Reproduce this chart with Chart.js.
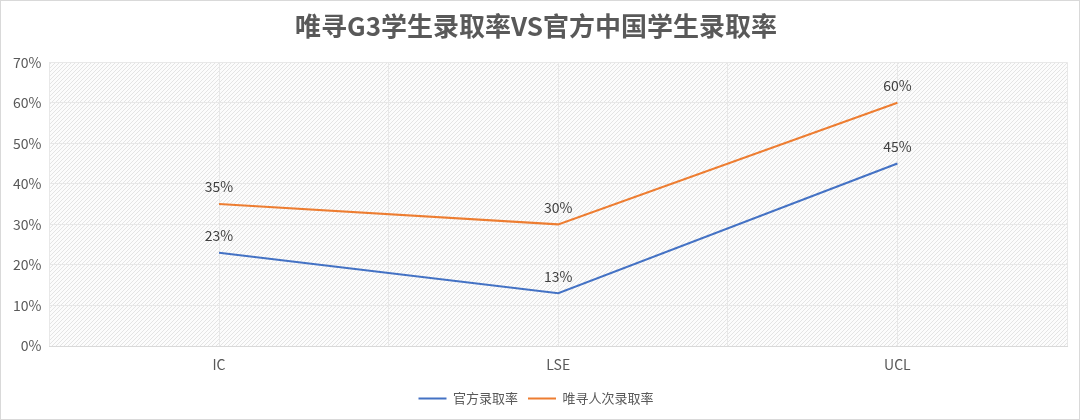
<!DOCTYPE html>
<html><head><meta charset="utf-8">
<script src="https://cdn.jsdelivr.net/npm/chart.js@4"></script>
<style>
html,body{margin:0;background:#fff}
#wrap{position:absolute;left:0;top:0;width:1078px;height:418px;border:1px solid #d9d9d9}
</style></head><body>
<div id="wrap"><canvas id="c"></canvas></div>
<script>
const categories = ["IC", "LSE", "UCL"];
const official = [23, 13, 45];
const weixun = [35, 30, 60];
const yTicks = [0, 10, 20, 30, 40, 50, 60, 70];

const FONT = "'Noto Sans CJK SC', 'Noto Sans', sans-serif";
const toPts = arr => arr.map((v, i) => ({ x: i, y: v }));

function hatch(ctx) {
  const p = document.createElement("canvas");
  p.width = 4; p.height = 4;
  const g = p.getContext("2d");
  g.fillStyle = "#fcfcfc"; g.fillRect(0, 0, 4, 4);
  g.strokeStyle = "#e4e4e4"; g.lineWidth = 1;
  g.beginPath(); g.moveTo(0, 4); g.lineTo(4, 0); g.moveTo(-1, 1); g.lineTo(1, -1); g.moveTo(3, 5); g.lineTo(5, 3); g.stroke();
  return ctx.createPattern(p, "repeat");
}

const bgPlugin = {
  id: "bg",
  beforeDraw(chart) {
    const { ctx, chartArea: a } = chart;
    ctx.save(); ctx.fillStyle = hatch(ctx);
    ctx.fillRect(a.left, a.top, a.right - a.left, a.bottom - a.top);
    ctx.restore();
  },
};

const labelPlugin = {
  id: "lbl",
  afterDatasetsDraw(chart) {
    const { ctx } = chart;
    ctx.save(); ctx.font = "14px " + FONT; ctx.fillStyle = "#404040";
    ctx.textAlign = "center"; ctx.textBaseline = "bottom";
    chart.data.datasets.forEach((ds, di) => {
      chart.getDatasetMeta(di).data.forEach((pt, i) => {
        ctx.fillText(ds.data[i].y + "%", pt.x, pt.y - 10);
      });
    });
    ctx.restore();
  },
};

new Chart(document.getElementById("c"), {
  type: "line",
  data: {
    datasets: [
      { label: "官方录取率", data: toPts(official), borderColor: "#4472c4", backgroundColor: "#4472c4", borderWidth: 2, pointRadius: 0 },
      { label: "唯寻人次录取率", data: toPts(weixun), borderColor: "#ed7d31", backgroundColor: "#ed7d31", borderWidth: 2, pointRadius: 0 },
    ],
  },
  options: {
    responsive: true, maintainAspectRatio: false, animation: false,
    layout: { padding: { left: 4, right: 12, top: 0, bottom: 4 } },
    plugins: {
      title: { display: true, text: "唯寻G3学生录取率VS官方中国学生录取率", color: "#595959", font: { family: FONT, size: 26, weight: "bold" }, padding: { top: 10, bottom: 20 } },
      legend: { position: "bottom", labels: { font: { family: FONT, size: 13 }, color: "#595959", boxWidth: 28, boxHeight: 0, padding: 10, usePointStyle: false, generateLabels: c => c.data.datasets.map((d, i) => ({ text: d.label, strokeStyle: d.borderColor, fillStyle: d.borderColor, lineWidth: 2, datasetIndex: i, fontColor: "#595959" })) } },
      tooltip: { enabled: false },
    },
    scales: {
      x: {
        type: "linear", min: -0.5, max: 2.5,
        afterBuildTicks: ax => { ax.ticks = [-0.5, 0, 0.5, 1, 1.5, 2, 2.5].map(v => ({ value: v })); },
        afterFit: ax => { ax.height = 36; },
        ticks: { font: { family: FONT, size: 14 }, color: "#595959", padding: 10, maxRotation: 0, autoSkip: false,
          callback: v => Number.isInteger(v) ? categories[v] : "" },
        grid: { color: "#e8e8e8", drawTicks: false },
        border: { color: "#d9d9d9" },
      },
      y: {
        min: 0, max: 70,
        afterBuildTicks: ax => { ax.ticks = yTicks.map(v => ({ value: v })); },
        ticks: { font: { family: FONT, size: 14 }, color: "#595959", padding: 8, callback: v => v + "%" },
        grid: { color: "#e8e8e8", drawTicks: false },
        border: { display: false },
      },
    },
  },
  plugins: [bgPlugin, labelPlugin],
});
</script></body></html>
